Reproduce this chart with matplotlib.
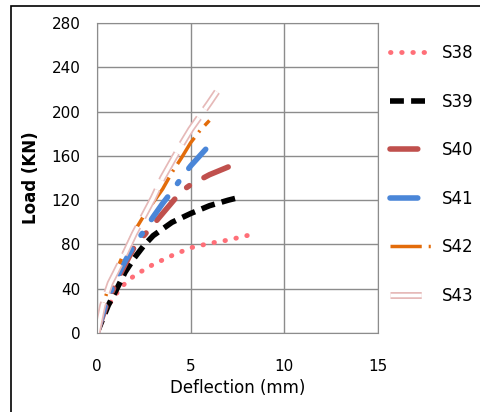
import matplotlib.pyplot as plt
import matplotlib.patheffects as pe
from matplotlib.patches import Rectangle

plt.rcParams['font.family'] = ['Liberation Sans Narrow', 'DejaVu Sans']

# Load-deflection curves
s38_x = [0, 0.5, 1, 1.5, 2, 3, 4, 5, 6, 7, 8.5]
s38_y = [0, 22, 35, 45, 52, 62, 70, 77, 81, 84, 90]

s39_x = [0, 0.6, 1, 1.5, 2, 2.5, 3, 4, 5, 6, 7, 7.7]
s39_y = [0, 25, 38, 55, 68, 79, 88, 100, 108, 115, 120, 123]

s40_x = [0, 0.5, 1, 1.5, 2, 2.5, 3, 3.5, 4, 4.5, 5, 6, 7]
s40_y = [0, 25, 45, 62, 78, 88, 98, 108, 118, 128, 134, 143, 150]

s41_x = [0, 0.5, 1, 1.5, 2, 2.5, 3, 3.5, 4, 4.5, 5, 5.8]
s41_y = [0, 28, 48, 65, 80, 92, 105, 117, 128, 140, 151, 166]

s42_x = [0, 0.3, 0.6, 1, 1.5, 2, 2.5, 3, 3.5, 4, 4.5, 5, 5.5, 6]
s42_y = [0, 25, 40, 55, 75, 92, 106, 118, 130, 145, 158, 172, 183, 192]

s43_x = [0, 0.3, 0.7, 1, 1.5, 2, 2.5, 3, 3.5, 4, 4.5, 5, 5.5, 6, 6.4]
s43_y = [0, 25, 45, 55, 72, 90, 106, 122, 140, 155, 170, 184, 196, 208, 218]

x_ticks = [0, 5, 10, 15]
y_ticks = [0, 40, 80, 120, 160, 200, 240, 280]

fig = plt.figure(figsize=(4.81, 4.12), dpi=100)
fig.patches.append(Rectangle((0.023, -0.05), 1.1, 1.036, transform=fig.transFigure,
                             fill=False, edgecolor='black', linewidth=1.2))
ax = fig.add_axes([0.2017, 0.1917, 0.5843, 0.7523])

ax.plot(s38_x, s38_y, color='#ff6f78', linewidth=3.5, linestyle=(0, (0.1, 2.2)),
        dash_capstyle='round', label='S38')
ax.plot(s39_x, s39_y, color='black', linewidth=4, linestyle=(0, (2.5, 1.3)), label='S39')
ax.plot(s40_x, s40_y, color='#c0504d', linewidth=4, linestyle=(0, (5, 3, 0.6, 3)),
        dash_capstyle='round', label='S40')
ax.plot(s41_x, s41_y, color='#4a86d8', linewidth=4, linestyle=(0, (5, 3, 0.4, 3)),
        dash_capstyle='round', label='S41')
ax.plot(s42_x, s42_y, color='#e36c0a', linewidth=2.5, linestyle=(0, (9, 2, 0.6, 2)),
        label='S42')
ax.plot(s43_x, s43_y, color='white', linewidth=2.5, linestyle=(0, (9, 3)), label='S43',
        path_effects=[pe.Stroke(linewidth=5, foreground='#e6b9b8'), pe.Normal()])

ax.set_xlim(0, 15)
ax.set_ylim(0, 280)
ax.set_xticks(x_ticks)
ax.set_yticks(y_ticks)
ax.grid(True, color='#8c8c8c', linewidth=1)
ax.set_axisbelow(True)
for side in ['top', 'right', 'left', 'bottom']:
    ax.spines[side].set_color('#8c8c8c')
ax.tick_params(axis='y', length=0, labelsize=11, pad=12)
ax.tick_params(axis='x', length=0, labelsize=11, pad=19)
ax.set_xlabel('Deflection (mm)', fontsize=12, labelpad=3)
ax.set_ylabel('Load (KN)', fontsize=12, fontweight='bold', labelpad=8)

ax.legend(loc='upper left', bbox_to_anchor=(1.0, 0.97), frameon=False, fontsize=12,
          handlelength=2.5, labelspacing=1.83, handletextpad=0.6, borderaxespad=0.3)

plt.savefig('out.png', dpi=100)
